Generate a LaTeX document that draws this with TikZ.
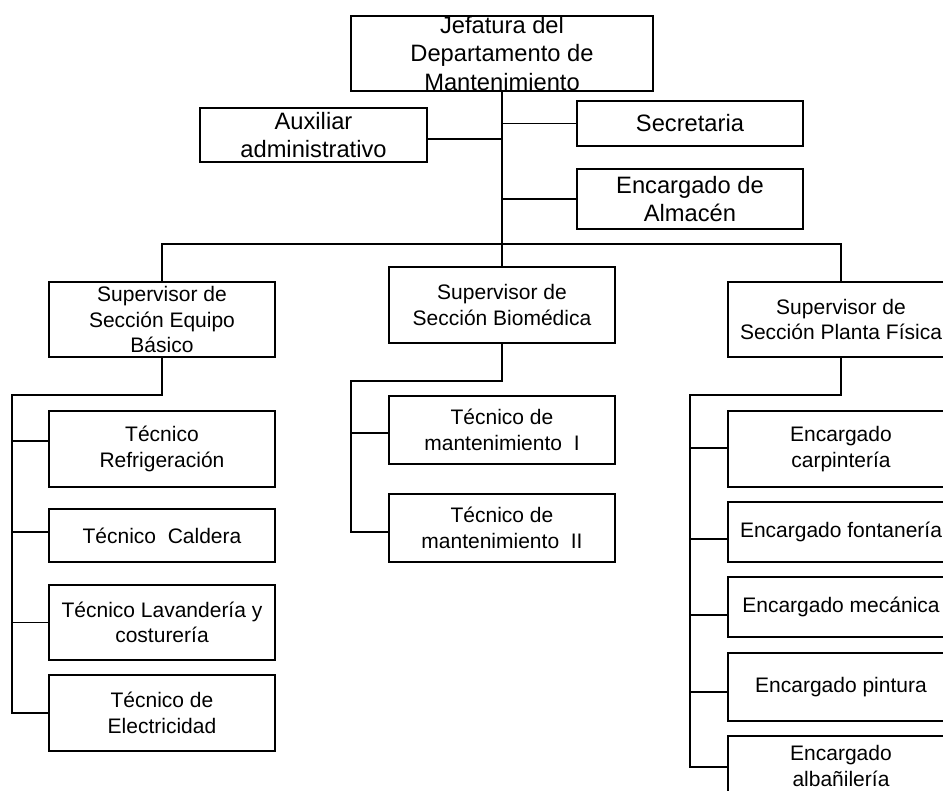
\documentclass[tikz,border=0pt]{standalone}
\usepackage{fontspec}
\setmainfont{Liberation Sans}
\begin{document}
\begin{tikzpicture}[x=1pt,y=-1pt,
  line width=1.7pt,
  unit/.style={draw, line width=1.7pt, inner sep=0pt, align=center, minimum width=226pt},
  upper/.style={unit, font=\fontsize{23.7}{28.5}\selectfont},
  lower/.style={unit, font=\fontsize{21}{25.5}\selectfont},
  link/.style={draw, line width=1.7pt}]
\useasboundingbox (0,0) rectangle (943,791);
\fill[white] (0,0) rectangle (943,791);
\clip (0,0) rectangle (943,791);

% Dirección y apoyo
\node[upper, minimum width=302pt, minimum height=75pt] (jef) at (502,53.5) {Jefatura del\\Departamento de\\Mantenimiento};
\node[upper, minimum width=227pt, minimum height=54pt] (aux) at (313.5,135) {Auxiliar\\administrativo};
\node[upper, minimum height=45pt] (sec) at (690,123.5) {Secretaria};
\node[upper, minimum height=60pt] (alm) at (690,199) {Encargado de\\Almacén};

% Supervisores
\node[lower, minimum height=75pt] (eb) at (162,319.5) {Supervisor de\\Sección Equipo\\Básico};
\node[lower, minimum height=76pt] (bio) at (502,305) {Supervisor de\\Sección Biomédica};
\node[lower, minimum height=75pt] (pf) at (841,319.5) {Supervisor de\\Sección Planta Física};

% Equipo básico
\node[lower, minimum height=76pt] (refr) at (162,449) {Técnico\\Refrigeración};
\node[lower, minimum height=53pt] (cald) at (162,535.5) {Técnico\ \ Caldera};
\node[lower, minimum height=75pt] (lav) at (162,622.5) {Técnico Lavandería y\\costurería};
\node[lower, minimum height=76pt] (elec) at (162,713) {Técnico de\\Electricidad};

% Biomédica
\node[lower, minimum height=68pt] (m1) at (502,430) {Técnico de\\mantenimiento\ \ I};
\node[lower, minimum height=68pt] (m2) at (502,528) {Técnico de\\mantenimiento\ \ II};

% Planta física
\node[lower, minimum height=76pt] (carp) at (841,449) {Encargado\\carpintería};
\node[lower, minimum height=60pt] (font) at (841,532) {Encargado fontanería};
\node[lower, minimum height=60pt] (mec) at (841,607) {Encargado mecánica};
\node[lower, minimum height=68pt] (pint) at (841,687) {Encargado pintura};
\node[lower, minimum height=60pt] (alb) at (841,766) {Encargado\\albañilería};

% Puntos de unión
\coordinate (bus) at (502,244);
\coordinate (ebL) at (12,395);
\coordinate (bioL) at (351,381);
\coordinate (pfL) at (690,395);
\coordinate (aux-in) at ([yshift=-4pt]aux.east);
\coordinate (refr-in) at ([yshift=8pt]refr.west);
\coordinate (cald-in) at ([yshift=3.5pt]cald.west);
\coordinate (m1-in) at ([yshift=-3pt]m1.west);
\coordinate (m2-in) at ([yshift=-4pt]m2.west);
\coordinate (carp-in) at ([yshift=1pt]carp.west);
\coordinate (font-in) at ([yshift=-7pt]font.west);
\coordinate (mec-in) at ([yshift=-8pt]mec.west);
\coordinate (pint-in) at ([yshift=-5pt]pint.west);
\coordinate (alb-in) at ([yshift=-1pt]alb.west);

% Tronco principal
\draw[link] (jef.south) -- (bio.north);
\draw[link] (aux-in) -- (aux-in -| jef.south);
\draw[link] (sec.west) -- (sec.west -| jef.south);
\draw[link] (alm.west) -- (alm.west -| jef.south);
\draw[link] (eb.north) |- (bus) -| (pf.north);

% Ramas de Equipo Básico
\draw[link] (eb.south) |- (ebL) |- (elec.west);
\draw[link] (ebL |- refr-in) -- (refr-in);
\draw[link] (ebL |- cald-in) -- (cald-in);
\draw[link] (ebL |- lav.west) -- (lav.west);

% Ramas de Biomédica
\draw[link] (bio.south) |- (bioL) |- (m2-in);
\draw[link] (bioL |- m1-in) -- (m1-in);

% Ramas de Planta Física
\draw[link] (pf.south) |- (pfL) |- (alb-in);
\draw[link] (pfL |- carp-in) -- (carp-in);
\draw[link] (pfL |- font-in) -- (font-in);
\draw[link] (pfL |- mec-in) -- (mec-in);
\draw[link] (pfL |- pint-in) -- (pint-in);
\end{tikzpicture}
\end{document}
